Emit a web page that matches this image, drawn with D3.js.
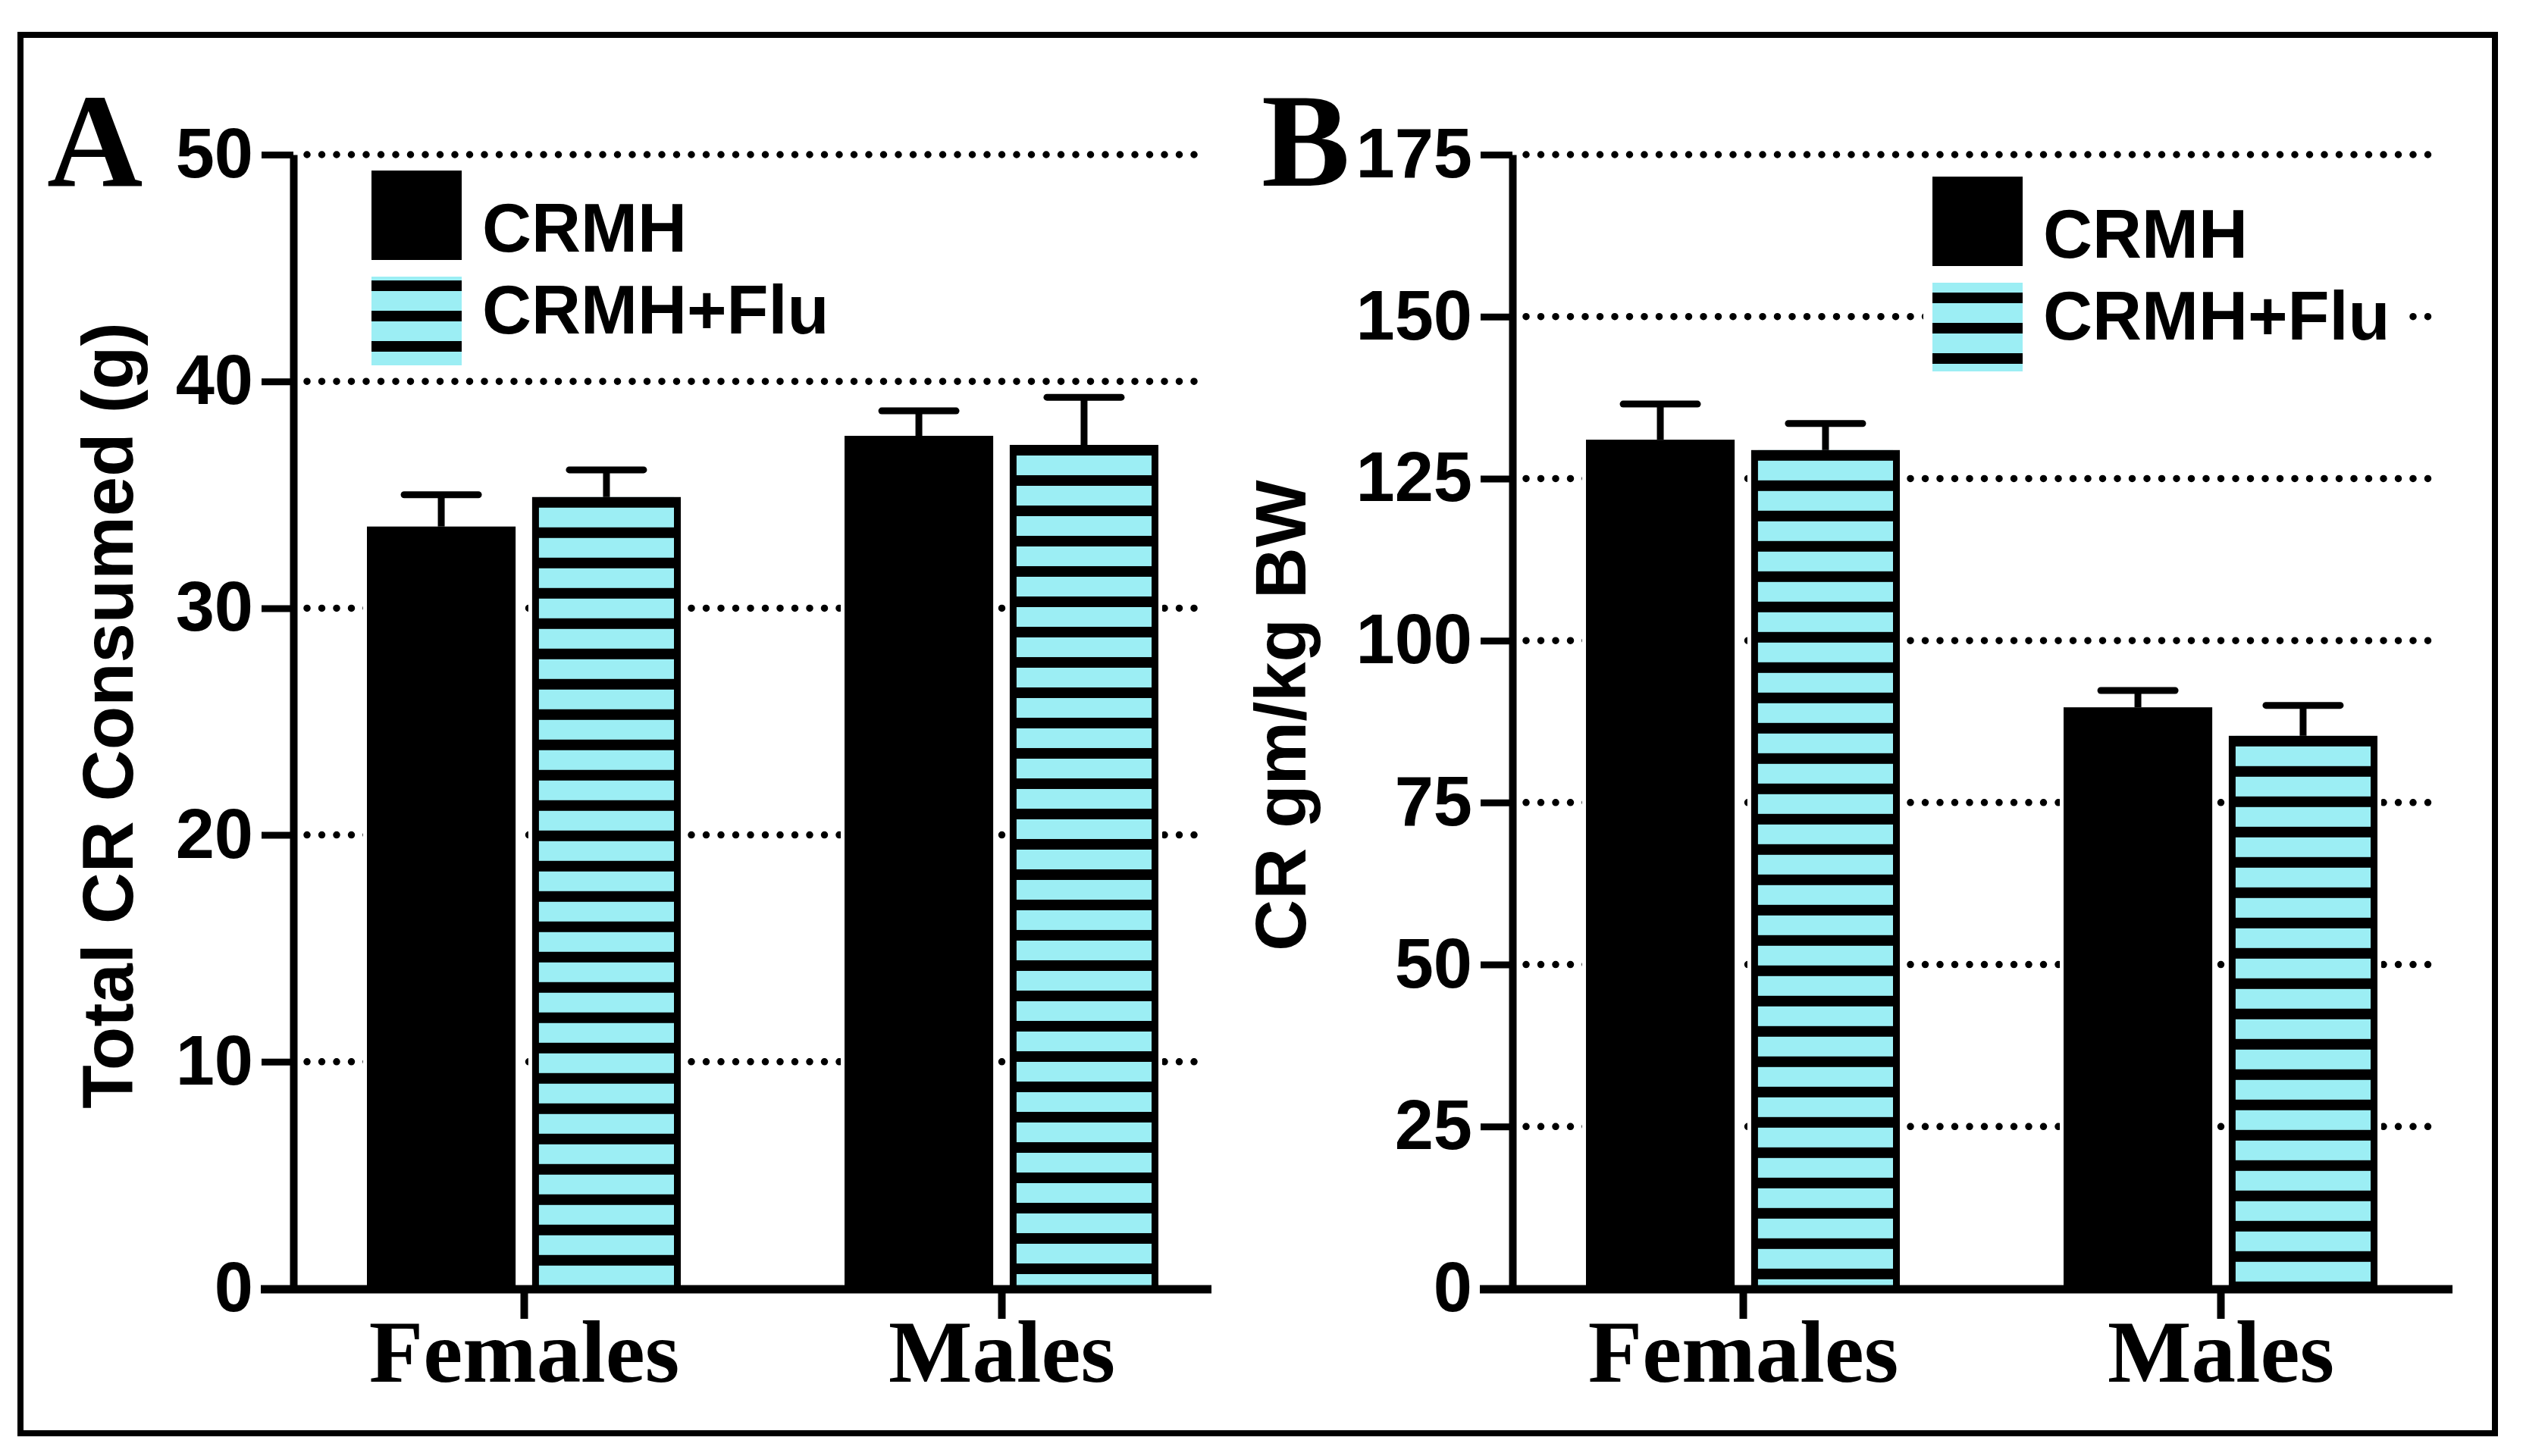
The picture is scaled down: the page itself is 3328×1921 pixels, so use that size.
<!DOCTYPE html>
<html>
<head>
<meta charset="utf-8">
<script src="https://cdn.jsdelivr.net/npm/d3@7"></script>
<style>
  html, body { margin: 0; padding: 0; background: #fff; }
  svg { display: block; }
</style>
</head>
<body>
<div id="chart"></div>
<script>
// categories and groups
const categories = ["Females", "Males"];
const groups = ["CRMH", "CRMH+Flu"];

// panel A: total CR consumed (g), mean and SEM
const totalCrmh = [33.6, 37.6];
const totalCrmhSem = [1.4, 1.1];
const totalFlu = [34.9, 37.2];
const totalFluSem = [1.2, 2.1];
const totalTicks = [0, 10, 20, 30, 40, 50];

// panel B: CR gm/kg BW, mean and SEM
const bwCrmh = [131.0, 89.7];
const bwCrmhSem = [5.5, 2.6];
const bwFlu = [129.4, 85.3];
const bwFluSem = [4.1, 4.7];
const bwTicks = [0, 25, 50, 75, 100, 125, 150, 175];

const W = 3328, H = 1921;
const cyan = "#9ceef4";
const sans = "'Liberation Sans', Arial, Helvetica, sans-serif";
const serif = "'Liberation Serif', 'Times New Roman', serif";

const svg = d3.select("#chart").append("svg")
    .attr("width", W)
    .attr("height", H);

svg.append("rect").attr("width", W).attr("height", H).attr("fill", "#fff");
const defs = svg.append("defs");

// cadre externe
svg.append("rect")
    .attr("x", 27).attr("y", 46)
    .attr("width", 3264).attr("height", 1845)
    .attr("fill", "none")
    .attr("stroke", "#000")
    .attr("stroke-width", 8);

const panels = [
    { id: "A", title: "Total CR Consumed (g)", means: [totalCrmh, totalFlu], sems: [totalCrmhSem, totalFluSem],
      ticks: totalTicks, axisX: 387, baseEnd: 1598, gridEnd: 1594, legX: 490, legY: 225,
      titleX: 175, letterX: 62, legendBg: false },
    { id: "B", title: "CR gm/kg BW", means: [bwCrmh, bwFlu], sems: [bwCrmhSem, bwFluSem],
      ticks: bwTicks, axisX: 1995, baseEnd: 3235, gridEnd: 3221, legX: 2549, legY: 233,
      titleX: 1722, letterX: 1664, legendBg: true }
];

const yTop = 204, yBase = 1700;

// stripes pattern anchored at a given y
function stripes(id, y0) {
    const pat = defs.append("pattern")
        .attr("id", id)
        .attr("patternUnits", "userSpaceOnUse")
        .attr("x", 0).attr("y", y0)
        .attr("width", 4000).attr("height", 40);
    pat.append("rect").attr("width", 4000).attr("height", 40).attr("fill", cyan);
    pat.append("rect").attr("width", 4000).attr("height", 14).attr("fill", "#000");
    return `url(#${id})`;
}

panels.forEach(drawPanel);

function drawPanel(p) {
    const g = svg.append("g");

    const y = d3.scaleLinear()
        .domain([0, d3.max(p.ticks)])
        .range([yBase, yTop]);

    const x0 = d3.scalePoint()
        .domain(categories)
        .range([p.axisX + 304, p.axisX + 934]);

    const x1 = d3.scaleBand()
        .domain(groups)
        .range([-207, 207])
        .paddingInner(0.1);

    const bw = x1.bandwidth();

    const rows = categories.flatMap((c, i) => groups.map((grp, j) => ({
        cat: c, grp: grp, j: j,
        value: p.means[j][i],
        sem: p.sems[j][i]
    })));

    // lignes pointillées
    g.append("g")
        .selectAll("line")
        .data(p.ticks.filter(t => t > 0))
        .join("line")
        .attr("x1", p.axisX + 18)
        .attr("x2", p.gridEnd)
        .attr("y1", d => y(d))
        .attr("y2", d => y(d))
        .attr("stroke", "#000")
        .attr("stroke-width", 9.5)
        .attr("stroke-linecap", "round")
        .attr("stroke-dasharray", "0 19.5");

    // halo blanc autour des barres
    g.append("g")
        .selectAll("rect")
        .data(rows)
        .join("rect")
        .attr("x", d => x0(d.cat) + x1(d.grp) - 5)
        .attr("y", d => y(d.value) - 5)
        .attr("width", bw + 10)
        .attr("height", d => yBase - y(d.value) + 5)
        .attr("fill", "#fff");

    // barres
    const bars = g.append("g")
        .selectAll("g")
        .data(rows)
        .join("g");

    bars.append("rect")
        .attr("x", d => x0(d.cat) + x1(d.grp))
        .attr("y", d => y(d.value))
        .attr("width", bw)
        .attr("height", d => yBase - y(d.value))
        .attr("fill", "#000");

    bars.filter(d => d.j === 1)
        .append("rect")
        .attr("x", d => x0(d.cat) + x1(d.grp) + 9)
        .attr("y", d => y(d.value))
        .attr("width", bw - 18)
        .attr("height", d => yBase - y(d.value))
        .attr("fill", (d, i) => stripes(`stripe-${p.id}-${i}`, y(d.value)));

    // barres d'erreur
    const err = g.append("g")
        .attr("stroke", "#000")
        .attr("stroke-width", 9)
        .selectAll("g")
        .data(rows)
        .join("g");

    err.append("line")
        .attr("x1", d => x0(d.cat) + x1(d.grp) + bw / 2)
        .attr("x2", d => x0(d.cat) + x1(d.grp) + bw / 2)
        .attr("y1", d => y(d.value))
        .attr("y2", d => y(d.value + d.sem));

    err.append("line")
        .attr("stroke-linecap", "round")
        .attr("x1", d => x0(d.cat) + x1(d.grp) + bw / 2 - 49)
        .attr("x2", d => x0(d.cat) + x1(d.grp) + bw / 2 + 49)
        .attr("y1", d => y(d.value + d.sem))
        .attr("y2", d => y(d.value + d.sem));

    // axe Y
    const yAxis = g.append("g")
        .attr("transform", `translate(${p.axisX},0)`)
        .call(d3.axisLeft(y).tickValues(p.ticks).tickSize(42).tickPadding(11).tickSizeOuter(0));

    yAxis.select(".domain").attr("stroke-width", 10);
    yAxis.selectAll(".tick line").attr("stroke-width", 9);
    yAxis.selectAll(".tick text")
        .attr("fill", "#000")
        .style("font-family", sans)
        .style("font-weight", "bold")
        .style("font-size", "92px");

    // ligne de base
    g.append("line")
        .attr("x1", p.axisX - 43)
        .attr("x2", p.baseEnd)
        .attr("y1", yBase + 1)
        .attr("y2", yBase + 1)
        .attr("stroke", "#000")
        .attr("stroke-width", 11);

    // axe X
    const xAxis = g.append("g")
        .attr("transform", `translate(0,${yBase})`)
        .call(d3.axisBottom(x0).tickSize(40).tickPadding(0).tickSizeOuter(0));

    xAxis.select(".domain").remove();
    xAxis.selectAll(".tick line").attr("stroke-width", 10);
    xAxis.selectAll(".tick text")
        .attr("fill", "#000")
        .attr("y", 123)
        .attr("dy", 0)
        .style("font-family", serif)
        .style("font-weight", "bold")
        .style("font-size", "117px");

    // titre de l'axe Y
    g.append("text")
        .attr("transform", `translate(${p.titleX},${(yTop + yBase) / 2 - 8}) rotate(-90)`)
        .attr("text-anchor", "middle")
        .style("font-family", sans)
        .style("font-weight", "bold")
        .style("font-size", "94px")
        .text(p.title);

    // lettre du panneau
    g.append("text")
        .attr("x", p.letterX)
        .attr("y", 245)
        .style("font-family", serif)
        .style("font-weight", "bold")
        .style("font-size", "175px")
        .text(p.id);

    // légende
    const leg = g.append("g");
    if (p.legendBg) {
        leg.append("rect")
            .attr("x", p.legX - 12)
            .attr("y", p.legY - 10)
            .attr("width", 640)
            .attr("height", 275)
            .attr("fill", "#fff");
    }

    const items = leg.selectAll("g.item")
        .data(groups)
        .join("g")
        .attr("class", "item")
        .attr("transform", (d, i) => `translate(${p.legX},${p.legY + i * 140})`);

    items.append("rect")
        .attr("width", 119)
        .attr("height", (d, i) => i === 0 ? 118 : 117)
        .attr("fill", (d, i) => i === 0 ? "#000" : stripes(`leg-${p.id}`, p.legY + 140));

    items.append("text")
        .attr("x", 146)
        .attr("y", (d, i) => i === 0 ? 107 : 75)
        .style("font-family", sans)
        .style("font-weight", "bold")
        .style("font-size", "90px")
        .text(d => d);
}
</script>
</body>
</html>
